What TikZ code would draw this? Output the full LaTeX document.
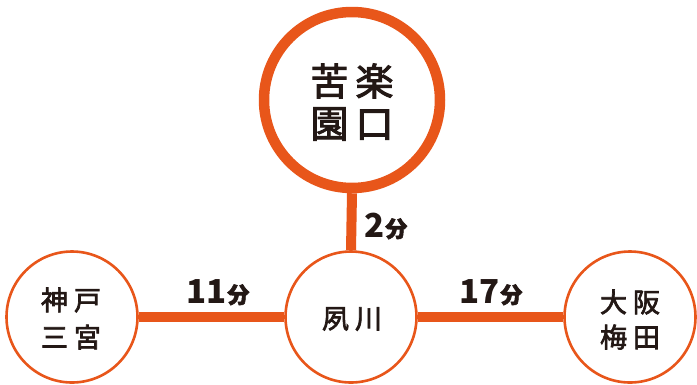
\documentclass[tikz,border=0pt]{standalone}
\usepackage{fontspec}
\setmainfont{Noto Sans CJK JP}
\newfontfamily\jp{Noto Sans CJK JP}
\newfontfamily\jpm[FakeBold=2.6]{Noto Sans CJK JP}
\definecolor{lineorange}{HTML}{E8561A}
\definecolor{ink}{HTML}{231815}
\tikzset{
  bigstation/.style={circle, draw=lineorange, line width=10.5pt, fill=white, minimum size=176pt, inner sep=0pt},
  smallstation/.style={circle, draw=lineorange, line width=2.6pt, fill=white, minimum size=131pt, inner sep=0pt},
  track/.style={draw=lineorange, line width=10pt},
  bigname/.style={text=ink, font=\jpm\fontsize{38}{38}\selectfont, inner sep=0pt, anchor=center},
  smallname/.style={text=ink, font=\jpm\fontsize{27}{27}\selectfont, inner sep=0pt, anchor=center},
  minutes/.style={text=ink, font=\jp\bfseries\fontsize{33}{33}\selectfont, inner sep=0pt, anchor=base west},
}
\newcommand{\fun}{{\jpm\fontsize{22}{22}\selectfont 分}}
\begin{document}
\begin{tikzpicture}[x=1pt,y=-1pt]
\useasboundingbox (0,0) rectangle (697,384);
\fill[white] (0,0) rectangle (697,384);
% stations
\node[bigstation] (kuraku) at (352,100) {};
\node[smallstation] (kobe) at (72,317) {};
\node[smallstation] (shuku) at (351,317) {};
\node[smallstation] (osaka) at (630,317) {};
% tracks
\draw[track] (kuraku.south) -- (shuku.north);
\draw[track] (kobe.east) -- (shuku.west);
\draw[track] (shuku.east) -- (osaka.west);
% names
\node[bigname] (k1) at (352,81) {苦\hspace{7pt}楽};
\node[bigname] (k2) at (352,124) {園\hspace{7pt}口};
\node[smallname] (b1) at (71,300) {神\hspace{6pt}戸};
\node[smallname] (b2) at (71,337) {三\hspace{6pt}宮};
\node[smallname] (s1) at (352,319) {夙\hspace{6pt}川};
\node[smallname] (o1) at (630,302) {大\hspace{6pt}阪};
\node[smallname] (o2) at (630,337) {梅\hspace{6pt}田};
% times
\node[minutes] (t1) at (186,303) {11\hspace{1pt}\fun};
\node[minutes] (t2) at (459,303) {17\hspace{1pt}\fun};
\node[minutes] (t3) at (364,237) {2\hspace{1pt}\fun};
\end{tikzpicture}
\end{document}
